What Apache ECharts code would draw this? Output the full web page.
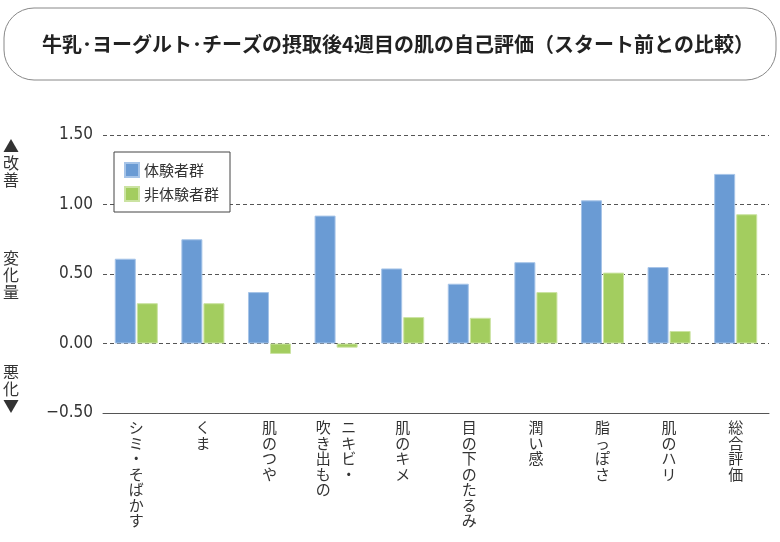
<!DOCTYPE html>
<html><head><meta charset="utf-8">
<script src="https://cdn.jsdelivr.net/npm/echarts@6/dist/echarts.min.js"></script>
<style>html,body{margin:0;padding:0;background:#fff}#c{width:780px;height:542px}</style>
</head><body><div id="c"></div>
<script>
const categories = ['シミ・そばかす','くま','肌のつや','ニキビ・\n吹き出もの','肌のキメ','目の下のたるみ','潤い感','脂っぽさ','肌のハリ','総合評価'];
const experienced = [0.61,0.75,0.37,0.92,0.54,0.43,0.585,1.03,0.55,1.22];
const nonExperienced = [0.29,0.29,-0.075,-0.03,0.19,0.185,0.37,0.51,0.09,0.93];
const yTicks = [-0.5,0,0.5,1.0,1.5];
const seriesNames = ['体験者群','非体験者群'];
const titleText = '牛乳･ヨーグルト･チーズの摂取後4週目の肌の自己評価（スタート前との比較）';
const sideLabels = ['▲\n改\n善','変\n化\n量','悪\n化\n▼'];

const JP = "'Noto Sans CJK JP','Noto Sans',sans-serif";
const NUM = "'Liberation Sans Narrow','DejaVu Sans Condensed','Liberation Sans',sans-serif";

function vertical(label){
  const cols = label.split('\n');
  if (cols.length === 1) return Array.from(cols[0]).join('\n');
  const right = Array.from(cols[0]), left = Array.from(cols[1]);
  const n = Math.max(right.length, left.length);
  const lines = [];
  for (let i = 0; i < n; i++) {
    lines.push((left[i] || '\u3000') + '\u2002\u2009' + (right[i] || '\u3000'));
  }
  return lines.join('\n');
}

const chart = echarts.init(document.getElementById('c'), null, {renderer:'canvas'});
chart.setOption({
  animation: false,
  backgroundColor: '#fff',
  grid: {left: 103, right: 11, top: 135, bottom: 129},
  legend: {
    orient: 'vertical', left: 114, top: 152,
    padding: [10, 11, 10, 10], itemGap: 8, itemWidth: 14, itemHeight: 14,
    borderColor: '#444', borderWidth: 1, backgroundColor: '#fff',
    icon: 'rect',
    textStyle: {fontFamily: JP, fontSize: 15, color: '#333', lineHeight: 15},
    data: seriesNames
  },
  xAxis: {
    type: 'category', data: categories,
    axisLine: {onZero: false, lineStyle: {color: '#555', width: 1}},
    axisTick: {show: false},
    axisLabel: {interval: 0, margin: 7, formatter: vertical, fontFamily: JP, fontSize: 15, lineHeight: 15.5, color: '#333', verticalAlign: 'top'}
  },
  yAxis: {
    type: 'value', min: yTicks[0], max: yTicks[yTicks.length-1], interval: 0.5,
    axisLine: {show: false}, axisTick: {show: false},
    axisLabel: {margin: 10, fontFamily: NUM, fontSize: 17, color: '#333',
      formatter: v => (v < 0 ? '\u2212' : '') + Math.abs(v).toFixed(2)},
    splitLine: {lineStyle: {type: [4, 3], color: '#555', width: 1}}
  },
  series: [
    {name: seriesNames[0], type: 'bar', data: experienced, barWidth: 21, barGap: '5%',
     itemStyle: {color: '#6a9bd4', borderColor: '#a6c4e8', borderWidth: 1}},
    {name: seriesNames[1], type: 'bar', data: nonExperienced, barWidth: 21,
     itemStyle: {color: '#a3cd5f', borderColor: '#cbe3a2', borderWidth: 1}}
  ],
  graphic: [
    {type: 'rect', shape: {x: 4, y: 8, width: 772, height: 72, r: 30},
     style: {fill: '#fff', stroke: '#888', lineWidth: 1}, z: 1},
    {type: 'text', x: 398, y: 44, z: 2,
     style: {text: titleText, font: "bold 20px " + JP, fill: '#222', align: 'center', verticalAlign: 'middle'}},
    {type: 'text', x: 11, y: 137, style: {text: sideLabels[0], font: "16px " + JP, lineHeight: 17, fill: '#333', align: 'center'}},
    {type: 'text', x: 11, y: 249, style: {text: sideLabels[1], font: "16px " + JP, lineHeight: 17, fill: '#333', align: 'center'}},
    {type: 'text', x: 11, y: 363, style: {text: sideLabels[2], font: "16px " + JP, lineHeight: 17, fill: '#333', align: 'center'}}
  ]
});
</script></body></html>
